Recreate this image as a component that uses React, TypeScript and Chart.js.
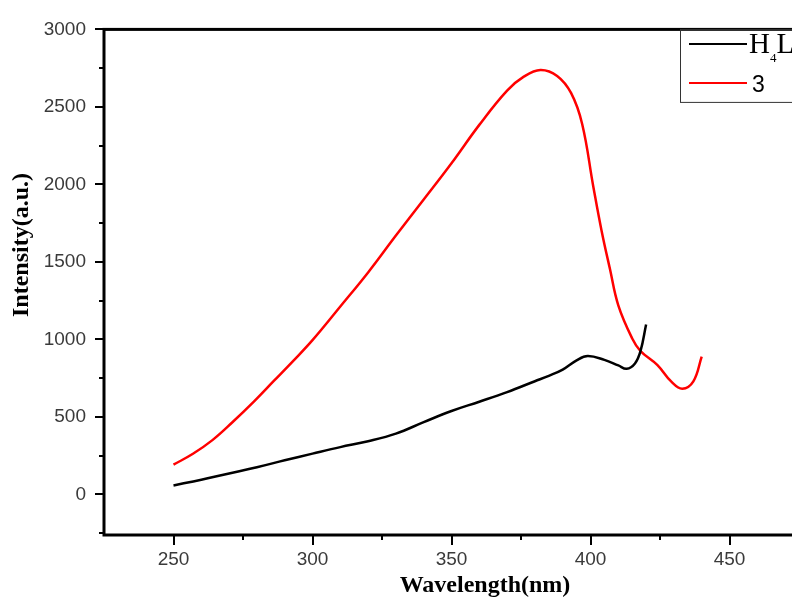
import React, { useEffect, useRef } from "react";
import { Chart, registerables } from "chart.js";

Chart.register(...registerables);

// ---- data ----
const h4lWavelength = [250, 260, 270, 280, 290, 300, 310, 320, 330, 340, 350, 360, 370, 380, 385, 390, 395, 399, 405, 410, 413, 416, 418, 420];
const h4lIntensity = [58, 95, 135, 175, 220, 263, 305, 343, 392, 466, 538, 598, 660, 730, 765, 805, 865, 893, 868, 832, 810, 845, 925, 1096];

const c3Wavelength = [250, 257, 264, 271, 279, 286, 293, 300, 310, 320, 330, 340, 350, 360, 370, 376, 382, 388, 393, 397, 401, 404, 407, 410, 415, 418, 424, 429, 433, 437, 440];
const c3Intensity = [192, 262, 350, 462, 600, 730, 860, 995, 1212, 1432, 1670, 1902, 2136, 2384, 2605, 2695, 2738, 2700, 2590, 2390, 1987, 1700, 1454, 1220, 1006, 925, 836, 729, 682, 729, 889];

const xMajorTicks = [250, 300, 350, 400, 450];
const xMinorTicks = [275, 325, 375, 425, 475];
const yMajorTicks = [0, 500, 1000, 1500, 2000, 2500, 3000];
const yMinorTicks = [-250, 250, 750, 1250, 1750, 2250, 2750];

const xRange = [225, 475];
const yRange = [-262, 3000];

const seriesNames = ["H4L", "3"];
const seriesColors = ["#000000", "#ff0000"];
const xTitle = "Wavelength(nm)";
const yTitle = "Intensity(a.u.)";

const framePlugin = {
  id: "frameAndLegend",
  afterDraw(chart: any) {
    const { ctx, chartArea: a, scales } = chart;
    const xs = scales.x;
    const ys = scales.y;
    ctx.save();
    ctx.strokeStyle = "#000";
    ctx.lineCap = "butt";
    const seg = (x1: number, y1: number, x2: number, y2: number) => {
      ctx.beginPath();
      ctx.moveTo(x1, y1);
      ctx.lineTo(x2, y2);
      ctx.stroke();
    };
    ctx.lineWidth = 2;
    xMajorTicks.forEach((v) => {
      const p = Math.round(xs.getPixelForValue(v));
      seg(p, a.bottom, p, a.bottom + 10);
    });
    xMinorTicks.forEach((v) => {
      const p = Math.round(xs.getPixelForValue(v));
      seg(p, a.bottom, p, a.bottom + 5);
    });
    yMajorTicks.forEach((v) => {
      const p = Math.round(ys.getPixelForValue(v));
      seg(a.left - 9, p, a.left, p);
    });
    yMinorTicks.forEach((v) => {
      const p = Math.round(ys.getPixelForValue(v));
      if (p <= a.bottom) seg(a.left - 5, p, a.left, p);
    });
    // frame
    ctx.lineWidth = 3;
    ctx.strokeRect(a.left, a.top, a.right - a.left, a.bottom - a.top);

    // legend box
    ctx.lineWidth = 1;
    ctx.strokeStyle = "#333";
    ctx.fillStyle = "#fff";
    ctx.fillRect(680, a.top + 1.5, 200, 72);
    ctx.strokeRect(680.5, a.top, 200, 73);
    ctx.lineWidth = 2;
    ctx.strokeStyle = seriesColors[0];
    seg(689, 44, 747, 44);
    ctx.strokeStyle = seriesColors[1];
    seg(689, 83, 747, 83);
    ctx.fillStyle = "#000";
    ctx.textBaseline = "alphabetic";
    ctx.textAlign = "left";
    ctx.font = "29px 'Liberation Serif', 'Times New Roman', serif";
    ctx.fillText("H", 749, 53);
    const hw = ctx.measureText("H").width;
    ctx.font = "13px 'Liberation Serif', 'Times New Roman', serif";
    ctx.fillText("4", 749 + hw, 62);
    const fw = ctx.measureText("4").width;
    ctx.font = "29px 'Liberation Serif', 'Times New Roman', serif";
    ctx.fillText("L", 749 + hw + fw, 53);
    ctx.font = "23px 'Liberation Sans', Arial, sans-serif";
    ctx.fillText(seriesNames[1], 752, 92);

    // axis titles
    ctx.font = "bold 24px 'Liberation Serif', 'Times New Roman', serif";
    ctx.textAlign = "center";
    ctx.textBaseline = "middle";
    ctx.fillText(xTitle, 485, 586);
    ctx.save();
    ctx.translate(22, 245);
    ctx.rotate(-Math.PI / 2);
    ctx.fillText(yTitle, 0, 0);
    ctx.restore();
    ctx.restore();
  },
};

export default function App() {
  const ref = useRef<HTMLCanvasElement | null>(null);
  useEffect(() => {
    if (!ref.current) return;
    const chart = new Chart(ref.current, {
      type: "line",
      data: {
        datasets: [
          {
            label: seriesNames[0],
            data: h4lWavelength.map((x, i) => ({ x, y: h4lIntensity[i] })),
            borderColor: seriesColors[0],
            borderWidth: 2.5,
            pointRadius: 0,
            tension: 0.4,
            fill: false,
          },
          {
            label: seriesNames[1],
            data: c3Wavelength.map((x, i) => ({ x, y: c3Intensity[i] })),
            borderColor: seriesColors[1],
            borderWidth: 2.5,
            pointRadius: 0,
            tension: 0.4,
            fill: false,
          },
        ],
      },
      options: {
        animation: false,
        responsive: false,
        devicePixelRatio: 1,
        events: [],
        layout: { padding: { left: 0, top: 25, right: 21, bottom: 0 } },
        plugins: { legend: { display: false }, tooltip: { enabled: false }, title: { display: false } },
        scales: {
          x: {
            type: "linear",
            min: xRange[0],
            max: xRange[1],
            grid: { display: false, drawTicks: false },
            border: { display: false },
            afterBuildTicks: (s: any) => {
              s.ticks = xMajorTicks.map((v) => ({ value: v }));
            },
            afterFit: (s: any) => {
              s.height = 66;
            },
            ticks: {
              padding: 13,
              maxRotation: 0,
              autoSkip: false,
              color: "#3a3a3a",
              callback: (v: any) => String(v),
              font: { family: "'Liberation Sans', Arial, sans-serif", size: 19 },
            },
          },
          y: {
            type: "linear",
            min: yRange[0],
            max: yRange[1],
            grid: { display: false, drawTicks: false },
            border: { display: false },
            afterBuildTicks: (s: any) => {
              s.ticks = yMajorTicks.map((v) => ({ value: v }));
            },
            afterFit: (s: any) => {
              s.width = 104;
            },
            ticks: {
              padding: 18,
              autoSkip: false,
              color: "#3a3a3a",
              callback: (v: any) => String(v),
              font: { family: "'Liberation Sans', Arial, sans-serif", size: 19 },
            },
          },
        },
      },
      plugins: [framePlugin],
    } as any);
    return () => chart.destroy();
  }, []);
  return (
    <div style={{ position: "fixed", left: 0, top: 0, width: 792, height: 601, overflow: "hidden", background: "#fff" }}>
      <canvas ref={ref} width={820} height={601} style={{ display: "block", width: 820, height: 601 }} />
    </div>
  );
}
